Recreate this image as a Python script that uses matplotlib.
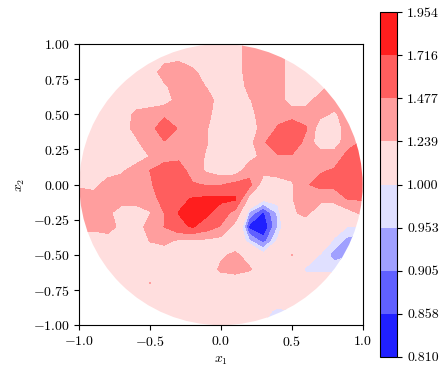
import matplotlib
matplotlib.use("Agg")
import matplotlib.pyplot as plt
import numpy as np
from matplotlib.colors import TwoSlopeNorm
from matplotlib.ticker import FormatStrFormatter
from matplotlib.patches import Circle

plt.rcParams['font.family'] = 'serif'
plt.rcParams['font.serif'] = ['cmr10']
plt.rcParams['mathtext.fontset'] = 'cm'
plt.rcParams['axes.formatter.use_mathtext'] = True
plt.rcParams['font.size'] = 10

# grid nodes (step 0.1), rows from y=1.0 down to y=-1.0, columns x=-1.0 .. 1.0
x = np.round(np.arange(-1.0, 1.01, 0.1), 2)
y = np.round(np.arange(1.0, -1.01, -0.1), 2)

z_rows = [
    # -1.0 -0.9 -0.8 -0.7 -0.6 -0.5 -0.4 -0.3 -0.2 -0.1  0.0  0.1  0.2  0.3  0.4  0.5  0.6  0.7  0.8  0.9  1.0
    [1.1, 1.1, 1.1, 1.1, 1.1, 1.1, 1.1, 1.1, 1.1, 1.1, 1.1, 1.1, 1.36, 1.36, 1.36, 1.1, 1.1, 1.1, 1.1, 1.1, 1.1],   # 1.0
    [1.1, 1.1, 1.1, 1.1, 1.1, 1.1, 1.15, 1.2, 1.1, 1.1, 1.1, 1.1, 1.36, 1.36, 1.36, 1.1, 1.1, 1.1, 1.1, 1.1, 1.1],  # 0.9
    [1.1, 1.1, 1.1, 1.1, 1.1, 1.1, 1.36, 1.36, 1.3, 1.1, 1.1, 1.1, 1.36, 1.36, 1.36, 1.1, 1.1, 1.1, 1.36, 1.36, 1.36],  # 0.8
    [1.1, 1.1, 1.1, 1.1, 1.1, 1.1, 1.2, 1.36, 1.36, 1.22, 1.1, 1.1, 1.3, 1.36, 1.36, 1.1, 1.1, 1.1, 1.36, 1.36, 1.36],  # 0.7
    [1.1, 1.1, 1.1, 1.1, 1.1, 1.1, 1.15, 1.3, 1.36, 1.36, 1.1, 1.1, 1.22, 1.36, 1.36, 1.1, 1.15, 1.36, 1.36, 1.36, 1.36],  # 0.6
    [1.1, 1.1, 1.1, 1.1, 1.3, 1.36, 1.4, 1.36, 1.36, 1.3, 1.1, 1.1, 1.15, 1.36, 1.4, 1.4, 1.36, 1.3, 1.2, 1.36, 1.36],  # 0.5
    [1.1, 1.1, 1.1, 1.15, 1.3, 1.36, 1.7, 1.45, 1.36, 1.25, 1.1, 1.1, 1.15, 1.3, 1.5, 1.6, 1.5, 1.1, 1.1, 1.36, 1.36],  # 0.4
    [1.1, 1.1, 1.1, 1.1, 1.2, 1.36, 1.45, 1.4, 1.36, 1.25, 1.1, 1.1, 1.15, 1.45, 1.62, 1.65, 1.4, 1.1, 1.1, 1.4, 1.5],  # 0.3
    [1.1, 1.1, 1.1, 1.1, 1.1, 1.25, 1.42, 1.42, 1.4, 1.2, 1.1, 1.1, 1.15, 1.3, 1.45, 1.45, 1.36, 1.36, 1.36, 1.55, 1.6],  # 0.2
    [1.1, 1.1, 1.1, 1.2, 1.36, 1.48, 1.55, 1.6, 1.36, 1.2, 1.1, 1.1, 1.38, 1.3, 1.36, 1.36, 1.36, 1.45, 1.5, 1.6, 1.6],  # 0.1
    [1.2, 1.15, 1.36, 1.36, 1.36, 1.45, 1.6, 1.65, 1.5, 1.46, 1.46, 1.55, 1.55, 1.1, 1.1, 1.2, 1.45, 1.55, 1.55, 1.65, 1.6],  # 0.0
    [1.36, 1.36, 1.36, 1.36, 1.36, 1.4, 1.55, 1.66, 1.73, 1.76, 1.77, 1.75, 1.15, 1.02, 1.03, 1.22, 1.4, 1.3, 1.3, 1.5, 1.5],  # -0.1
    [1.36, 1.36, 1.3, 1.1, 1.1, 1.22, 1.48, 1.72, 1.92, 1.76, 1.6, 1.4, 0.94, 0.85, 0.96, 1.2, 1.3, 1.1, 1.1, 1.15, 1.3],  # -0.2
    [1.3, 1.3, 1.36, 1.15, 1.1, 1.36, 1.48, 1.68, 1.73, 1.6, 1.45, 1.15, 0.84, 0.812, 0.95, 1.12, 1.1, 1.1, 1.05, 0.995, 1.0],  # -0.3
    [1.1, 1.1, 1.1, 1.1, 1.1, 1.25, 1.3, 1.2, 1.2, 1.18, 1.15, 1.1, 0.96, 0.88, 1.01, 1.1, 1.1, 1.08, 0.985, 0.93, 0.94],  # -0.4
    [1.1, 1.1, 1.1, 1.1, 1.1, 1.1, 1.1, 0.995, 1.1, 1.1, 1.2, 1.28, 1.15, 1.02, 1.08, 1.245, 1.06, 0.995, 0.93, 0.95, 1.0],  # -0.5
    [1.1, 1.1, 1.1, 1.1, 1.1, 1.1, 1.1, 1.1, 1.1, 1.1, 1.28, 1.32, 1.26, 1.1, 1.1, 1.05, 0.99, 0.98, 0.98, 1.0, 1.0],  # -0.6
    [1.1, 1.1, 1.1, 1.1, 1.1, 1.245, 1.1, 1.1, 1.1, 1.1, 1.1, 1.1, 1.1, 1.1, 1.1, 1.03, 1.03, 1.05, 1.05, 1.05, 1.05],  # -0.7
    [1.1, 1.1, 1.1, 1.1, 1.1, 1.1, 1.1, 1.1, 1.1, 1.1, 1.1, 1.1, 1.1, 1.1, 1.05, 1.1, 1.1, 1.1, 1.1, 1.1, 1.1],  # -0.8
    [1.1, 1.1, 1.1, 1.1, 1.1, 1.1, 1.1, 1.1, 1.1, 1.1, 1.1, 1.1, 1.1, 1.02, 0.985, 1.0, 1.1, 1.1, 1.1, 1.1, 1.1],  # -0.9
    [1.1, 1.1, 1.1, 1.1, 1.1, 1.1, 1.1, 1.1, 1.1, 1.1, 1.1, 1.1, 1.1, 1.0, 0.985, 1.0, 1.1, 1.1, 1.1, 1.1, 1.1],  # -1.0
]

levels = [0.810, 0.858, 0.905, 0.953, 1.000, 1.239, 1.477, 1.716, 1.954]

Z = np.array(z_rows)
X, Y = np.meshgrid(x, y)

fig = plt.figure(figsize=(4.46, 3.67), dpi=100)
ax = fig.add_axes([0.178, 0.114, 0.635, 0.766])
cax = fig.add_axes([380 / 446, 1 - 356.7 / 367, 17.3 / 446, 344.4 / 367])

norm = TwoSlopeNorm(vmin=levels[0], vcenter=1.0, vmax=levels[-1])
cs = ax.contourf(X, Y, Z, levels=levels, cmap='bwr', norm=norm)
circ = Circle((0, 0), 1.0, transform=ax.transData)
cs.set_clip_path(circ)

ax.set_xlim(-1, 1)
ax.set_ylim(-1, 1)
ax.set_xticks([-1.0, -0.5, 0.0, 0.5, 1.0])
ax.set_yticks([-1.0, -0.75, -0.5, -0.25, 0.0, 0.25, 0.5, 0.75, 1.0])
ax.yaxis.set_major_formatter(FormatStrFormatter('$%.2f$'))
ax.xaxis.set_major_formatter(FormatStrFormatter('$%.1f$'))
ax.set_xlabel('$x_1$')
ax.set_ylabel('$x_2$')

cb = fig.colorbar(cs, cax=cax)
cb.set_ticks(levels)
cb.ax.yaxis.set_major_formatter(FormatStrFormatter('%.3f'))

fig.savefig('out.png', dpi=100)
